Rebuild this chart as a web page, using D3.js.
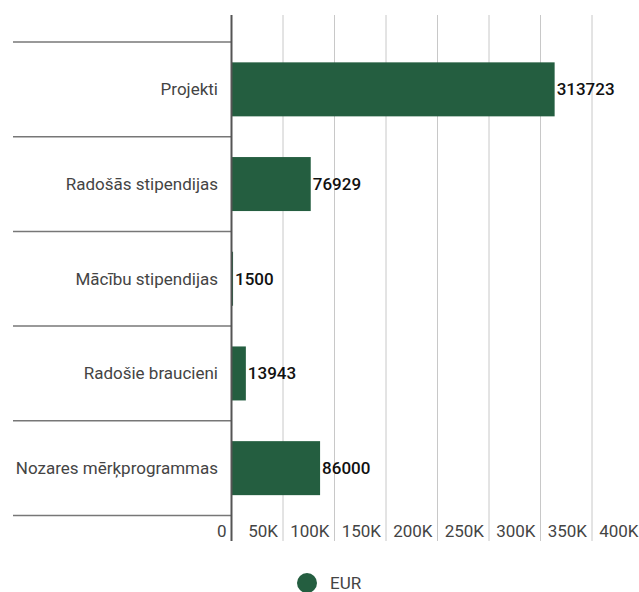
<!DOCTYPE html>
<html><head><meta charset="utf-8">
<script src="https://cdn.jsdelivr.net/npm/d3@7"></script>
<style>
html,body{margin:0;padding:0;background:#fff;}
svg{display:block;font-family:Roboto,"Noto Sans",sans-serif;}
</style></head>
<body><svg id="c" width="639" height="592"></svg>
<script>
const categories = ["Projekti","Radošās stipendijas","Mācību stipendijas","Radošie braucieni","Nozares mērķprogrammas"];
const values = [313723,76929,1500,13943,86000];
const tickValues = [0,50000,100000,150000,200000,250000,300000,350000,400000];
const tickLabels = ["0","50K","100K","150K","200K","250K","300K","350K","400K"];
const seriesName = "EUR";
const barColor = "#245e40";

(function(){
const svg = d3.select("#c");
const x0 = 231.5, plotTop = 42, plotBottom = 515.5;
const x = d3.scaleLinear().domain([0,400000]).range([x0, x0 + 8*51.5]);
const y = d3.scaleBand().domain(categories).range([plotTop,plotBottom]).paddingInner(0).paddingOuter(0);

// gridlines
svg.append("g").selectAll("line").data(tickValues.slice(1)).join("line")
  .attr("x1",d=>x(d)).attr("x2",d=>x(d)).attr("y1",15).attr("y2",541)
  .attr("stroke","#c8c8c8").attr("stroke-width",1);

// category separators
const seps = categories.map(c=>y(c)).concat([plotBottom]);
svg.append("g").selectAll("line").data(seps).join("line")
  .attr("x1",13).attr("x2",x0).attr("y1",d=>d).attr("y2",d=>d)
  .attr("stroke","#777").attr("stroke-width",1.5);

// bars
const bh = 54;
svg.append("g").selectAll("rect").data(values).join("rect")
  .attr("x",x0).attr("y",(d,i)=>y(categories[i])+y.bandwidth()/2-bh/2)
  .attr("width",d=>x(d)-x0).attr("height",bh).attr("fill",barColor);

// zero axis
svg.append("line").attr("x1",x0).attr("x2",x0).attr("y1",15).attr("y2",541)
  .attr("stroke","#555").attr("stroke-width",2);

// category labels
svg.append("g").selectAll("text").data(categories).join("text")
  .attr("x",218).attr("y",d=>y(d)+y.bandwidth()/2).attr("dy","0.35em")
  .attr("text-anchor","end").attr("font-size",17).attr("fill","#444").text(d=>d);

// value labels
svg.append("g").selectAll("text").data(values).join("text")
  .attr("x",d=>x(d)+2).attr("y",(d,i)=>y(categories[i])+y.bandwidth()/2).attr("dy","0.35em")
  .attr("font-size",17).attr("font-weight",500).attr("fill","#111").text(d=>d);

// x tick labels
svg.append("g").selectAll("text").data(tickValues).join("text")
  .attr("x",d=>x(d)-5).attr("y",531).attr("dy","0.35em")
  .attr("text-anchor","end").attr("font-size",17).attr("fill","#444")
  .text((d,i)=>tickLabels[i]);

// legend
svg.append("circle").attr("cx",307).attr("cy",583).attr("r",10).attr("fill",barColor);
svg.append("text").attr("x",330).attr("y",583).attr("dy","0.35em")
  .attr("font-size",17).attr("fill","#444").text(seriesName);
})();
</script></body></html>
